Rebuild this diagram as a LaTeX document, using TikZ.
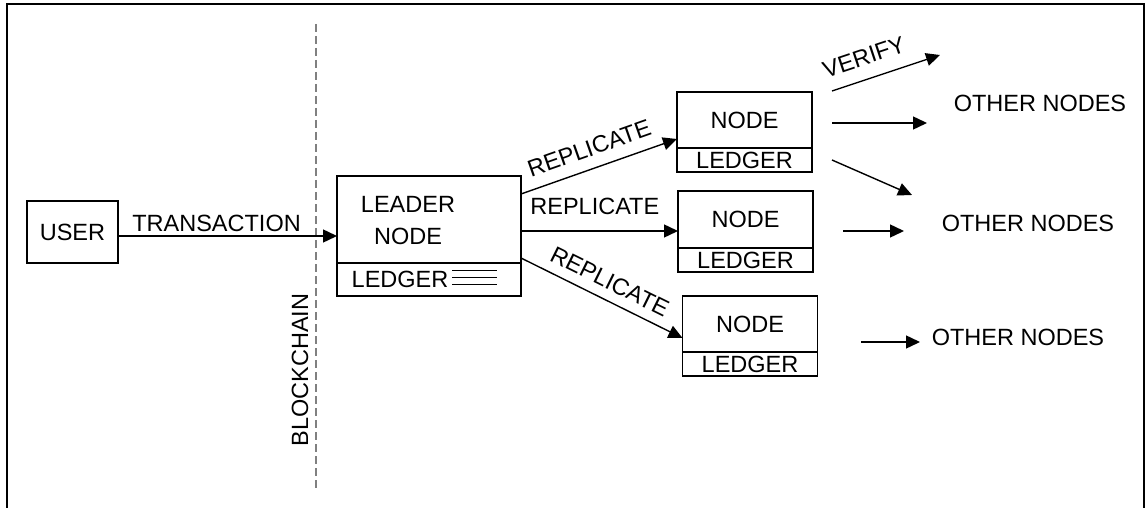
\documentclass[tikz,border=0pt]{standalone}
\usepackage{fontspec}
\setmainfont{Liberation Sans}
\usetikzlibrary{arrows.meta,positioning}

\begin{document}
\begin{tikzpicture}[x=1pt,y=-1pt,
  font=\fontsize{23.5}{32}\selectfont,
  box/.style={draw,line width=1.2pt,inner sep=0pt,outer sep=0pt},
  link/.style={line width=1.4pt,-{Triangle[length=14pt,width=13pt]}},
  lbl/.style={sloped,above}]
\useasboundingbox (0,0) rectangle (1146,508);
\draw[line width=2.2pt] (7,508) -- (7,4) -- (1144,4) -- (1144,508);

% blockchain border
\draw[gray,line width=1.2pt,dash pattern=on 8pt off 4pt] (316,24) -- (316,490);
\node[rotate=90] (chain) at (300,370) {BLOCKCHAIN};

\node[box,minimum width=91,minimum height=62] (user) at (72.5,232) {USER};

% leader
\node[box,minimum width=184,minimum height=87] (leader) at (429,219.5) {};
\node[box,minimum width=184,minimum height=33,below=0pt of leader] (ledger0) {};
\node[align=center] (leadertxt) at (408,221) {LEADER\\NODE};
\node (ledgertxt) at (400,279) {LEDGER};
\foreach \y in {270,277,284}
  \draw[line width=1pt] (452,\y) -- (497,\y);

% followers
\foreach \i/\x/\y/\h in {1/744.5/120/56, 2/745.5/219.5/57, 3/750/324/56}{
  \node[box,minimum width=135,minimum height=\h] (node\i) at (\x,\y) {NODE};
  \node[box,minimum width=135,minimum height=24,below=0pt of node\i] (ledger\i) {LEDGER};
}

\draw[link] ([yshift=-4pt]user.east) -- ([yshift=-4pt]user.east -| leader.west)
  node[above,pos=0.45] {TRANSACTION};
\draw[link] ([yshift=-18pt]leader.north east) -- ([yshift=-19pt]node1.west)
  node[lbl,above=8pt,pos=0.48] {REPLICATE};
\draw[link] ([yshift=-11.5pt]leader.east) -- ([yshift=-11.5pt]node2.west)
  node[above=12pt,pos=0.47] {REPLICATE};
\draw[link] ([yshift=-38.5pt]leader.east) -- ([yshift=-14pt]node3.west)
  node[lbl,above=6pt,pos=0.5] {REPLICATE};

% onward
\coordinate (v1) at (832,91);  \coordinate (v2) at (940,55);
\coordinate (h1) at (832,123); \coordinate (h2) at (927,123);
\coordinate (d1) at (832,160); \coordinate (d2) at (912,195);
\coordinate (s1) at (843,231); \coordinate (s2) at (904,231);
\coordinate (t1) at (861,342); \coordinate (t2) at (920,342);
\draw[link] (v1) -- (v2) node[lbl,above=10pt,pos=0.36] {VERIFY};
\draw[link] (h1) -- (h2);
\draw[link] (d1) -- (d2);
\draw[link] (s1) -- (s2);
\draw[link] (t1) -- (t2);

\node (others1) at (1040,103) {OTHER NODES};
\node (others2) at (1028,223) {OTHER NODES};
\node (others3) at (1018,337) {OTHER NODES};
\end{tikzpicture}
\end{document}
